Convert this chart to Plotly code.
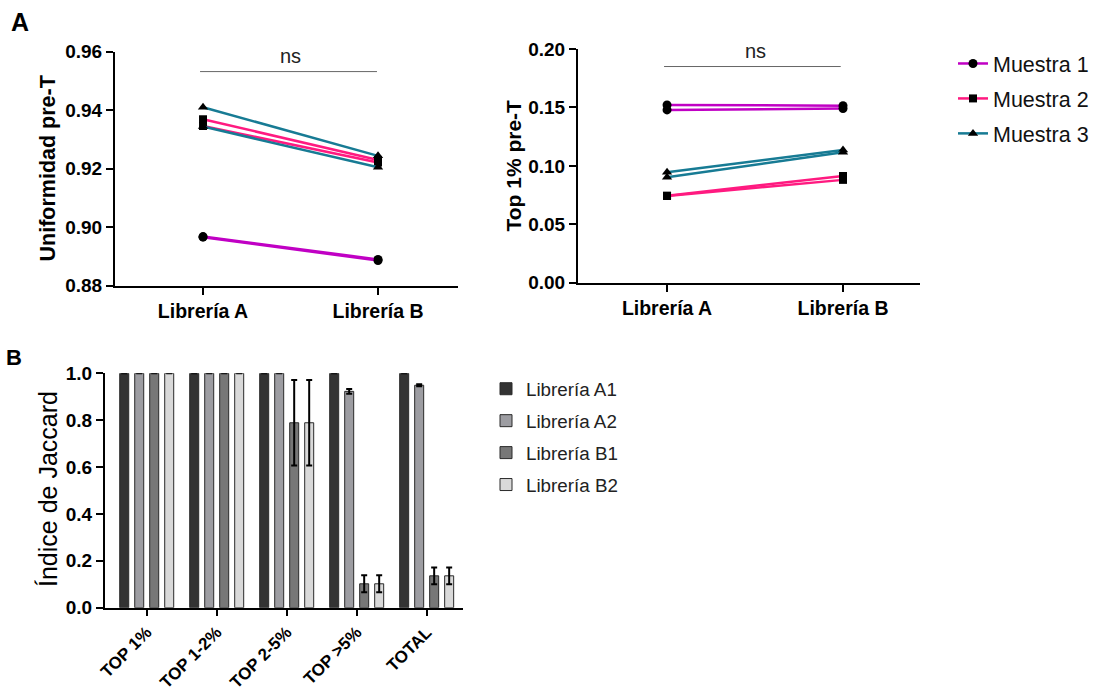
import plotly.graph_objects as go

W, H = 1097, 693

# ---------------- data ----------------
libs = ["Librería A", "Librería B"]
samples = ["Muestra 1", "Muestra 2", "Muestra 3"]
sample_colors = ["#c000c4", "#ff1a80", "#177b94"]
sample_symbols = ["circle", "square", "triangle-up"]

# Uniformidad pre-T (two replicate lines per sample)
unif_m1 = [[0.8968, 0.8890], [0.8966, 0.8886]]
unif_m2 = [[0.9369, 0.9230], [0.9346, 0.9221]]
unif_m3 = [[0.9410, 0.9244], [0.9344, 0.9205]]

# Top 1% pre-T
top1_m1 = [[0.1521, 0.1515], [0.1479, 0.1490]]
top1_m2 = [[0.0745, 0.0913], [0.0742, 0.0880]]
top1_m3 = [[0.0945, 0.1136], [0.0902, 0.1116]]

# Jaccard panel
groups = ["TOP 1%", "TOP 1-2%", "TOP 2-5%", "TOP >5%", "TOTAL"]
series_names = ["Librería A1", "Librería A2", "Librería B1", "Librería B2"]
series_colors = ["#333333", "#9d9da2", "#777777", "#d9d9d9"]
jac_a1 = [1.0, 1.0, 1.0, 1.0, 1.0]
jac_a2 = [1.0, 1.0, 1.0, 0.923, 0.949]
jac_b1 = [1.0, 1.0, 0.789, 0.102, 0.136]
jac_b2 = [1.0, 1.0, 0.789, 0.102, 0.136]
err_a1 = [0, 0, 0, 0, 0]
err_a2 = [0, 0, 0, 0.010, 0.004]
err_b1 = [0, 0, 0.182, 0.036, 0.036]
err_b2 = [0, 0, 0.182, 0.036, 0.036]

# ---------------- figure ----------------
FONT = "Liberation Sans, Arial, sans-serif"
fig = go.Figure()


def px_x(p):
    return p / W


def px_y(p):
    return 1 - p / H


unif = [unif_m1, unif_m2, unif_m3]
top1 = [top1_m1, top1_m2, top1_m3]

for data, xa, ya, show in ((unif, "x", "y", True), (top1, "x2", "y2", False)):
    for si, reps in enumerate(data):
        for ri, vals in enumerate(reps):
            fig.add_trace(go.Scatter(
                x=libs, y=vals, xaxis=xa, yaxis=ya,
                mode="lines+markers",
                name=samples[si],
                legendgroup=samples[si],
                showlegend=(show and ri == 0),
                legend="legend",
                line=dict(color=sample_colors[si], width=2.5),
                marker=dict(symbol=sample_symbols[si], color="black",
                            size=9 if si != 1 else 8),
                cliponaxis=False,
            ))

jac = [jac_a1, jac_a2, jac_b1, jac_b2]
errs = [err_a1, err_a2, err_b1, err_b2]
for i in range(4):
    fig.add_trace(go.Bar(
        x=groups, y=jac[i], name=series_names[i],
        xaxis="x3", yaxis="y3",
        legend="legend2", legendgroup=series_names[i],
        marker=dict(color=series_colors[i], line=dict(color="#2a2a2a", width=1)),
        error_y=dict(type="data", array=errs[i], visible=True,
                     color="black", thickness=2, width=3),
    ))

axis_common = dict(showline=True, linewidth=2, linecolor="black",
                   ticks="outside", tickwidth=2, tickcolor="black",
                   showgrid=False, zeroline=False, mirror=False, automargin=False)

bold_tick = dict(family=FONT, size=19, color="black", weight="bold")
bold_xtick = dict(family=FONT, size=19.5, color="black", weight="bold")

fig.update_layout(
    template="none",
    width=W, height=H,
    margin=dict(l=0, r=0, t=0, b=0, autoexpand=False),
    paper_bgcolor="white", plot_bgcolor="white",
    font=dict(family=FONT, color="black"),
    barmode="group", bargap=0.143, bargroupgap=0.4,
    xaxis=dict(domain=[px_x(115), px_x(458)], anchor="y", ticklen=7,
               range=[-0.503, 1.457], tickfont=bold_xtick, **axis_common),
    yaxis=dict(domain=[px_y(285.7), px_y(51.7)], anchor="x", ticklen=7,
               range=[0.88, 0.96], tickvals=[0.88, 0.90, 0.92, 0.94, 0.96],
               tickformat=".2f", tickfont=bold_tick, **axis_common),
    xaxis2=dict(domain=[px_x(578), px_x(920)], anchor="y2", ticklen=7,
                range=[-0.506, 1.4375], tickfont=bold_xtick, **axis_common),
    yaxis2=dict(domain=[px_y(282.7), px_y(49)], anchor="x2", ticklen=7,
                range=[0, 0.2], tickvals=[0, 0.05, 0.10, 0.15, 0.20],
                tickformat=".2f", tickfont=bold_tick, **axis_common),
    xaxis3=dict(domain=[px_x(105), px_x(463)], anchor="y3", ticklen=6,
                range=[-0.596, 4.519], tickangle=-45,
                tickfont=dict(family=FONT, size=17, color="black", weight="bold"),
                **axis_common),
    yaxis3=dict(domain=[px_y(607.7), px_y(373.3)], anchor="x3", ticklen=7,
                range=[0, 1.0], tickvals=[0, 0.2, 0.4, 0.6, 0.8, 1.0],
                tickformat=".1f", tickfont=bold_tick, **axis_common),
    legend=dict(x=px_x(953), y=px_y(43), xanchor="left", yanchor="top",
                font=dict(family=FONT, size=21.5, color="#111111"),
                tracegroupgap=4, bgcolor="rgba(0,0,0,0)", itemwidth=30),
    legend2=dict(x=px_x(486), y=px_y(370), xanchor="left", yanchor="top",
                 font=dict(family=FONT, size=18.8, color="#222222"),
                 tracegroupgap=4.5, bgcolor="rgba(0,0,0,0)", itemwidth=30),
    showlegend=True,
)

# axis titles (placed as rotated text)
fig.add_annotation(xref="paper", yref="paper", x=px_x(47.5), y=px_y(169),
                   text="Uniformidad pre-T", textangle=-90, showarrow=False,
                   xanchor="center", yanchor="middle",
                   font=dict(family=FONT, size=21.5, color="black", weight="bold"))
fig.add_annotation(xref="paper", yref="paper", x=px_x(513), y=px_y(165.5),
                   text="Top 1% pre-T", textangle=-90, showarrow=False,
                   xanchor="center", yanchor="middle",
                   font=dict(family=FONT, size=21, color="black", weight="bold"))
fig.add_annotation(xref="paper", yref="paper", x=px_x(48), y=px_y(489),
                   text="Índice de Jaccard", textangle=-90, showarrow=False,
                   xanchor="center", yanchor="middle",
                   font=dict(family=FONT, size=25, color="black"))

# significance brackets
fig.add_shape(type="line", xref="x", yref="y", x0=-0.017, x1=0.994,
              y0=0.9532, y1=0.9532, line=dict(color="#666666", width=1))
fig.add_shape(type="line", xref="x2", yref="y2", x0=-0.017, x1=0.987,
              y0=0.185, y1=0.185, line=dict(color="#666666", width=1))
fig.add_annotation(xref="x", yref="y", x=0.5, y=0.9532, yshift=3, text="ns",
                   showarrow=False, yanchor="bottom",
                   font=dict(family=FONT, size=20, color="#222222"))
fig.add_annotation(xref="x2", yref="y2", x=0.5, y=0.185, yshift=3, text="ns",
                   showarrow=False, yanchor="bottom",
                   font=dict(family=FONT, size=20, color="#222222"))

# panel letters
fig.add_annotation(xref="paper", yref="paper", x=px_x(20), y=px_y(22), text="A",
                   xanchor="center", yanchor="middle", showarrow=False,
                   font=dict(family=FONT, size=25, color="black", weight="bold"))
fig.add_annotation(xref="paper", yref="paper", x=px_x(14), y=px_y(357), text="B",
                   xanchor="center", yanchor="middle", showarrow=False,
                   font=dict(family=FONT, size=22, color="black", weight="bold"))

fig.write_html("out.html")
